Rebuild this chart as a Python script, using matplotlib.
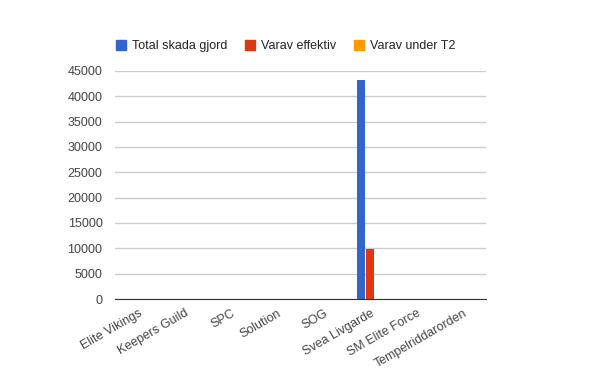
import matplotlib
matplotlib.use("Agg")
import matplotlib.pyplot as plt
import numpy as np

categories = ["Elite Vikings", "Keepers Guild", "SPC", "Solution", "SOG",
              "Svea Livgarde", "SM Elite Force", "Tempelriddarorden"]
series_names = ["Total skada gjord", "Varav effektiv", "Varav under T2"]
total = [0, 0, 0, 0, 0, 43300, 0, 0]
effektiv = [0, 0, 0, 0, 0, 9900, 0, 0]
under_t2 = [0, 0, 0, 0, 0, 0, 0, 0]
colors = ["#3366cc", "#dc3912", "#ff9900"]
yticks = [0, 5000, 10000, 15000, 20000, 25000, 30000, 35000, 40000, 45000]

plt.rcParams['font.family'] = ['Liberation Sans', 'DejaVu Sans']

fig = plt.figure(figsize=(6, 3.71), dpi=100)
W, H = 600, 371
left, right, top, bottom = 115, 486, 71, 299
ax = fig.add_axes([left / W, 1 - bottom / H, (right - left) / W, (bottom - top) / H])

x = np.arange(len(categories))
bw = 0.18
for i, (vals, c, name) in enumerate(zip([total, effektiv, under_t2], colors, series_names)):
    ax.bar(x + (i - 1) * bw * 1.08, vals, width=bw, color=c, label=name, zorder=3)

ax.set_xlim(-0.5, len(categories) - 0.5)
ax.set_ylim(0, 45000)
ax.set_yticks(yticks)
ax.set_yticklabels([str(v) for v in yticks], fontsize=9, color="#444444")
ax.yaxis.grid(True, color="#cccccc", linewidth=1, zorder=0)
ax.tick_params(axis='y', length=0, pad=9)
ax.tick_params(axis='x', length=0, pad=6)
ax.set_xticks(x)
ax.set_xticklabels(categories, rotation=30, ha='right', rotation_mode='anchor',
                   fontsize=9, color="#444444")
for s in ["top", "right", "left"]:
    ax.spines[s].set_visible(False)
ax.spines["bottom"].set_color("#333333")
ax.spines["bottom"].set_zorder(4)

handles = [plt.Rectangle((0, 0), 1, 1, color=c) for c in colors]
fig.legend(handles, series_names, loc='upper left', bbox_to_anchor=(105 / W, 1 - 29 / H),
           ncol=3, frameon=False, fontsize=9, handlelength=0.8, handleheight=0.8,
           handletextpad=0.45, columnspacing=1.45, labelcolor="#222222")

fig.savefig("out.png", dpi=100)
